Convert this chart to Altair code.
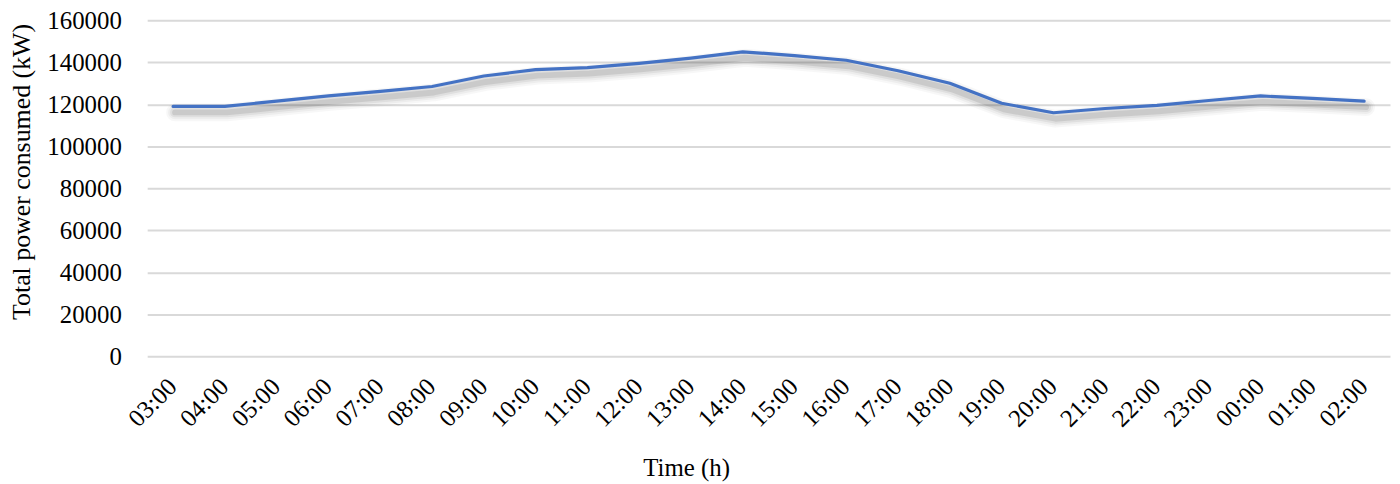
import altair as alt
import pandas as pd

times = ["03:00", "04:00", "05:00", "06:00", "07:00", "08:00", "09:00", "10:00",
         "11:00", "12:00", "13:00", "14:00", "15:00", "16:00", "17:00", "18:00",
         "19:00", "20:00", "21:00", "22:00", "23:00", "00:00", "01:00", "02:00"]
power = [119000, 119000, 121500, 124000, 126200, 128500, 133500, 136500,
         137500, 139500, 142000, 145000, 143200, 141000, 136000, 130000,
         120500, 116000, 118000, 119500, 121800, 124000, 122800, 121500]

df = pd.DataFrame({"time": times, "power": power})

FONT = "Liberation Serif"

x = alt.X("time:N", sort=times, scale=alt.Scale(paddingInner=0, paddingOuter=0),
          axis=alt.Axis(title="Time (h)", labelAngle=-45, labelAlign="right",
                        labelBaseline="middle", labelPadding=26, labelOffset=-1, ticks=False,
                        domain=False, grid=False, labelFont=FONT, labelFontSize=25,
                        labelColor="#000000", titleFont=FONT, titleFontSize=25,
                        titleFontWeight="normal", titleColor="#000000",
                        titleX=542, titleY=120, titleBaseline="alphabetic",
                        titleAnchor="middle", titleAlign="center"))
y = alt.Y("power:Q", scale=alt.Scale(domain=[0, 160000], nice=False),
          axis=alt.Axis(title="Total power consumed (kW)", values=list(range(0, 160001, 20000)),
                        format="d", ticks=False, domain=False, grid=True, gridColor="#d9d9d9",
                        gridWidth=2, labelFont=FONT, labelFontSize=25,
                        labelColor="#000000", labelPadding=26, titleFont=FONT,
                        titleFontSize=26, titleFontWeight="normal",
                        titleColor="#000000", titleX=-126, titleY=152,
                        titleAngle=-90, titleAlign="center", titleBaseline="middle"))

shadows = [
    alt.Chart(df).mark_line(color="#000000", opacity=op, strokeWidth=sw,
                            xOffset=2, yOffset=6, strokeJoin="round", strokeCap="round")
    .encode(x=x, y=y)
    for sw, op in [(18, 0.03), (14, 0.04), (10, 0.06), (6, 0.09)]
]
line = alt.Chart(df).mark_line(color="#4472C4", strokeWidth=3.2,
                               strokeJoin="round", strokeCap="round").encode(x=x, y=y)

chart = alt.layer(*shadows, line).properties(
    width=1250, height=338,
    padding={"left": 140, "top": 11, "right": 2, "bottom": 127},
    autosize=alt.AutoSizeParams(type="none"),
    background="#ffffff",
).configure_view(stroke=None)

chart.save("out.html", embed_options={"renderer": "svg", "actions": False})
